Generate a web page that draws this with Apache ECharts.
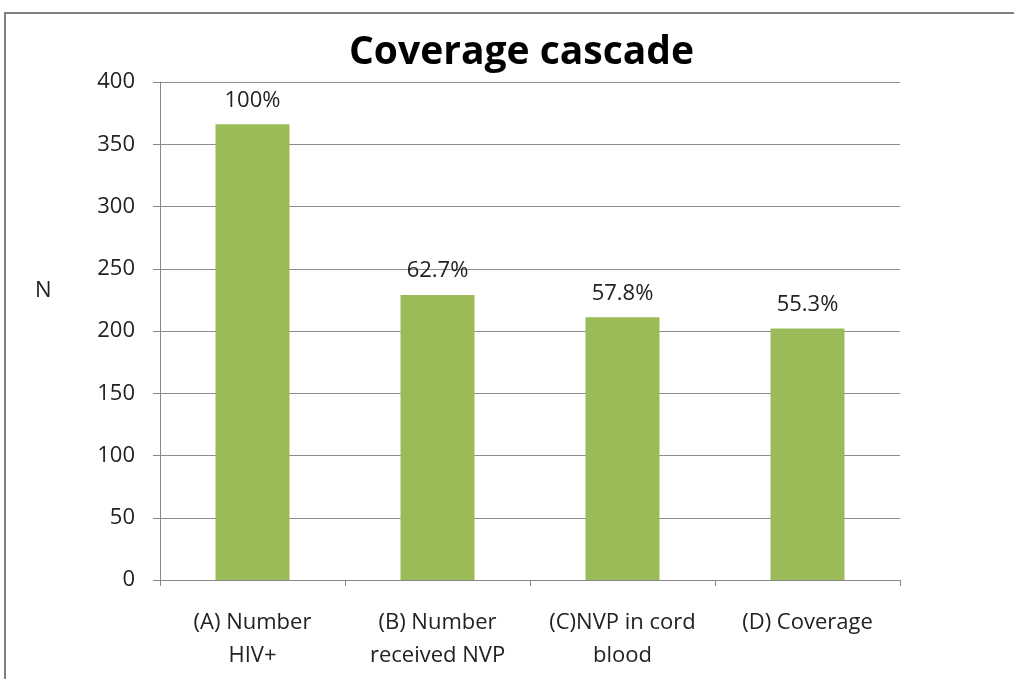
<!DOCTYPE html>
<html>
<head>
<meta charset="utf-8">
<script src="https://cdn.jsdelivr.net/npm/echarts@6/dist/echarts.min.js"></script>
<style>
  html, body { margin: 0; padding: 0; background: #fff; }
  #myChart { width: 1014px; height: 679px; }
</style>
</head>
<body>
<div id="myChart"></div>
<script>
var myChart = echarts.init(document.getElementById('myChart'));

// categories, counts and the percentage printed over each bar
var categories = ['(A) Number\nHIV+', '(B) Number\nreceived NVP', '(C)NVP in cord\nblood', '(D) Coverage'];
var counts = [366, 229, 211, 202];
var pctLabels = ['100%', '62.7%', '57.8%', '55.3%'];
var yTicks = [0, 50, 100, 150, 200, 250, 300, 350, 400];

var font = '"Open Sans", Lato, sans-serif';

myChart.setOption({
    animation: false,
    backgroundColor: '#fff',
    title: {
        text: 'Coverage cascade',
        left: 344, top: 28,
        textStyle: {fontFamily: font, fontSize: 39, fontWeight: 'bold', color: '#000'}
    },
    graphic: [
        {type: 'rect', shape: {x: 5, y: 13, width: 1100, height: 800}, style: {fill: 'none', stroke: '#7f7f7f', lineWidth: 2}},
        {type: 'text', left: 35, top: 280, style: {text: 'N', fontFamily: font, fontSize: 22, fill: '#222'}}
    ],
    grid: {left: 160, right: 114, top: 82, bottom: 99},
    xAxis: {
        type: 'category',
        data: categories,
        axisLine: {lineStyle: {color: '#888', width: 1}},
        axisTick: {show: true, interval: 0, length: 6, lineStyle: {color: '#888'}},
        axisLabel: {interval: 0, fontFamily: font, fontSize: 22, color: '#222', lineHeight: 33, margin: 26}
    },
    yAxis: {
        type: 'value',
        min: yTicks[0], max: yTicks[yTicks.length - 1], interval: 50,
        axisLine: {show: true, lineStyle: {color: '#888', width: 1}},
        axisTick: {show: true, length: 7, lineStyle: {color: '#888'}},
        splitLine: {lineStyle: {color: '#8c8c8c', width: 1}},
        axisLabel: {fontFamily: font, fontSize: 22, color: '#222', margin: 25}
    },
    series: [{
        type: 'bar',
        data: counts,
        barWidth: '40%',
        itemStyle: {color: '#9bbb59'},
        label: {
            show: true, position: 'top', distance: 13,
            fontFamily: font, fontSize: 22, color: '#222',
            formatter: function (p) { return pctLabels[p.dataIndex]; }
        }
    }]
});
</script>
</body>
</html>
